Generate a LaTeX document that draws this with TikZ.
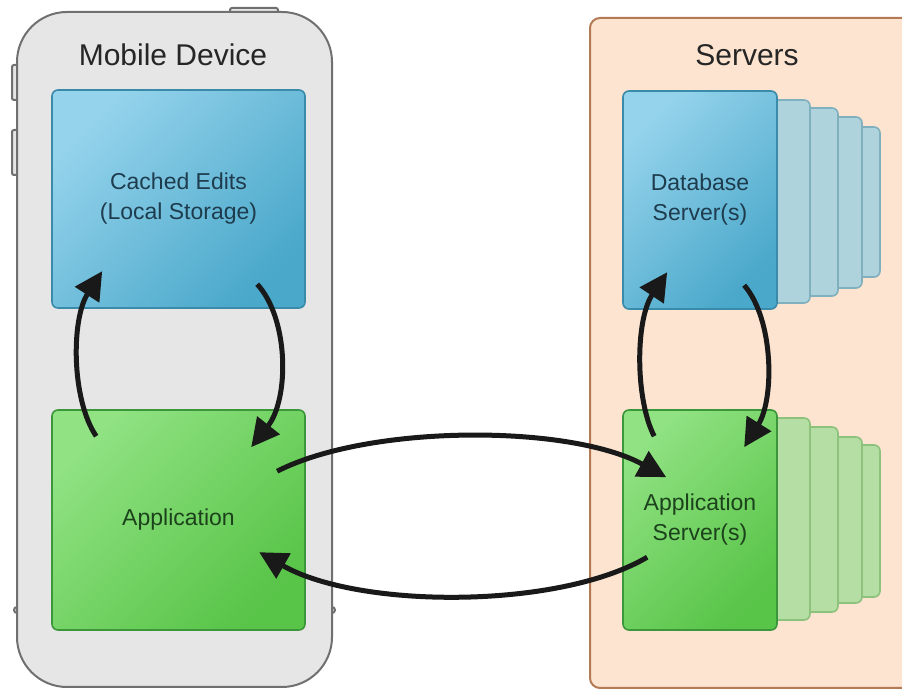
\documentclass[tikz,border=0pt]{standalone}
\usepackage{fontspec}
\setmainfont{Liberation Sans}
\usetikzlibrary{arrows.meta}

\definecolor{phonefill}{HTML}{E6E6E6}
\definecolor{phoneedge}{HTML}{707070}
\definecolor{srvfill}{HTML}{FCE4D0}
\definecolor{srvedge}{HTML}{B47A55}
\definecolor{bluetop}{HTML}{95D3EC}
\definecolor{bluebot}{HTML}{4AA8CA}
\definecolor{blueedge}{HTML}{3A8AAA}
\definecolor{bluetext}{HTML}{1E3C4E}
\definecolor{greentop}{HTML}{90E282}
\definecolor{greenbot}{HTML}{58C448}
\definecolor{greenedge}{HTML}{3C963A}
\definecolor{greentext}{HTML}{1C421C}
\definecolor{bluecardfill}{HTML}{AED3DD}
\definecolor{bluecardedge}{HTML}{80AFBD}
\definecolor{greencardfill}{HTML}{B4DEA3}
\definecolor{greencardedge}{HTML}{8CC27C}

\begin{document}
\begin{tikzpicture}[x=0.5pt,y=-0.5pt,
    phone/.style={draw=phoneedge, fill=phonefill, line width=1pt},
    srvpanel/.style={draw=srvedge, fill=srvfill, line width=1pt, rounded corners=5pt},
    bluebox/.style={draw=blueedge, line width=0.8pt, rounded corners=3pt,
        top color=bluetop, bottom color=bluebot, shading angle=45,
        text=bluetext, align=center, inner sep=0pt,
        font=\fontsize{11.5}{15}\selectfont},
    greenbox/.style={draw=greenedge, line width=0.8pt, rounded corners=3pt,
        top color=greentop, bottom color=greenbot, shading angle=45,
        text=greentext, align=center, inner sep=0pt,
        font=\fontsize{11.5}{15}\selectfont},
    bluecard/.style={draw=bluecardedge, fill=bluecardfill, line width=0.8pt, rounded corners=3pt},
    greencard/.style={draw=greencardedge, fill=greencardfill, line width=0.8pt, rounded corners=3pt},
    heading/.style={font=\fontsize{15}{18}\selectfont, text=black!85},
    flow/.style={line width=2.5pt, draw=black!90, -{Triangle[length=14pt,width=14pt]}}]
        \clip (0,0) rectangle (902,690);

        % phone outline with buttons
        \draw[phone, rounded corners=1pt] (230,8) rectangle (278,18);
        \draw[phone, rounded corners=1pt] (12,65) rectangle (24,100);
        \draw[phone, rounded corners=1pt] (12,130) rectangle (24,175);
        \draw[phone] (17,610) circle (3);
        \draw[phone] (332,610) circle (3);
        \draw[phone, rounded corners=25pt] (17,12) rectangle (332,687);
        \node[heading] (devtitle) at (173,55) {Mobile Device};

        % server panel
        \draw[srvpanel] (590,18) rectangle (920,688);
        \node[heading] (srvtitle) at (747,55) {Servers};

        \node[bluebox, minimum width=126.5pt, minimum height=109pt] (cache) at (178.5,199) {Cached Edits\\(Local Storage)};
        \node[greenbox, minimum width=126.5pt, minimum height=110pt] (app) at (178.5,520) {Application};

        \foreach \r/\t/\b in {880/127/277, 862/117/288, 838/108/296, 810/100/303}
            \draw[bluecard] (\r-100,\t) rectangle (\r,\b);
        \foreach \r/\t/\b in {880/445/597, 862/437/603, 838/427/612, 810/418/620}
            \draw[greencard] (\r-100,\t) rectangle (\r,\b);

        \node[bluebox, minimum width=77pt, minimum height=109pt] (db) at (700,200) {Database\\Server(s)};
        \node[greenbox, minimum width=77pt, minimum height=110pt] (appsrv) at (700,520) {Application\\Server(s)};

        \draw[flow] ([shift={(45,27)}]app.north west) .. controls +(-25,-37) and +(-31,48) .. ([shift={(51,182)}]cache.north west);
        \draw[flow] ([shift={(206,195)}]cache.north west) .. controls +(32,35) and +(38,-48) .. ([shift={(200,38)}]app.north west);
        \draw[flow] ([shift={(226,62)}]app.north west) .. controls +(92,-47) and +(-97,-53) .. ([shift={(44,68)}]appsrv.north west);
        \draw[flow] ([shift={(25,148)}]appsrv.north west) .. controls +(-88,52) and +(100,57) .. ([shift={(208,143)}]app.north west);
        \draw[flow] ([shift={(32,27)}]appsrv.north west) .. controls +(-19,-37) and +(-32,48) .. ([shift={(45,182)}]db.north west);
        \draw[flow] ([shift={(122,195)}]db.north west) .. controls +(30,35) and +(30,-48) .. ([shift={(122,38)}]appsrv.north west);
    \end{tikzpicture}
\end{document}
